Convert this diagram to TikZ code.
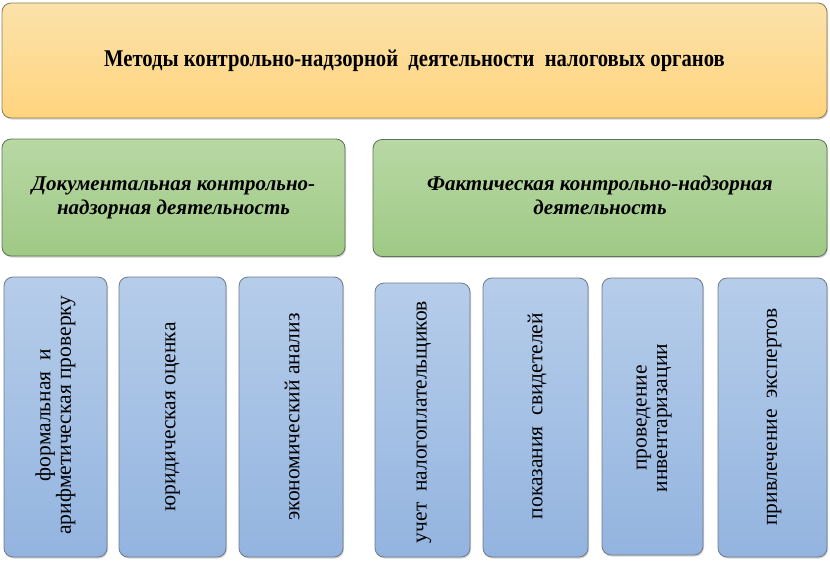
\documentclass[tikz,border=0pt]{standalone}
\usepackage{fontspec}
\setmainfont{Liberation Serif}
\usetikzlibrary{shadows}
\definecolor{topA}{HTML}{FBE2AA}
\definecolor{topB}{HTML}{FFD47E}
\definecolor{grnA}{HTML}{B8D8A4}
\definecolor{grnB}{HTML}{9FC985}
\definecolor{bluA}{HTML}{B6CDEA}
\definecolor{bluB}{HTML}{93B4DF}
\definecolor{edgeO}{HTML}{8A7A5A}
\definecolor{edgeG}{HTML}{5E7458}
\definecolor{edgeB}{HTML}{6E7A8A}
\begin{document}
\begin{tikzpicture}[x=1pt,y=-1pt,
  base/.style={rounded corners=9pt, line width=0.8pt, inner sep=0pt,
    drop shadow={shadow xshift=1pt, shadow yshift=-1.5pt, fill=black!35, opacity=0.5}},
  topbox/.style={base, draw=edgeO, top color=topA, bottom color=topB,
    font=\fontsize{24}{26}\selectfont\bfseries},
  grnbox/.style={base, draw=edgeG, top color=grnA, bottom color=grnB,
    font=\fontsize{21}{24}\selectfont\bfseries\itshape, align=center},
  blubox/.style={base, draw=edgeB, top color=bluA, bottom color=bluB},
  vtext/.style={rotate=90, font=\fontsize{21.5}{20.5}\selectfont, align=center, inner sep=0pt}
]
\useasboundingbox (0,0) rectangle (830,560);
\node[topbox, minimum width=825pt, minimum height=115pt] (top) at (414.5,60.5)
  {\scalebox{0.86}[1]{Методы контрольно-надзорной\ \ деятельности\ \ налоговых органов}};
\node[grnbox, minimum width=343pt, minimum height=117pt] (doc) at (173.5,197.5)
  {\raisebox{-2pt}{\begin{tabular}{@{}c@{}}Документальная контрольно-\\надзорная деятельность\end{tabular}}};
\node[grnbox, minimum width=454pt, minimum height=117pt] (fact) at (600,198)
  {\raisebox{-2pt}{\begin{tabular}{@{}c@{}}Фактическая контрольно-надзорная\\деятельность\end{tabular}}};
\node[blubox, minimum width=103pt, minimum height=280pt] (b1) at (55.5,417) {};
\node[blubox, minimum width=107pt, minimum height=280pt] (b2) at (172.5,417) {};
\node[blubox, minimum width=104pt, minimum height=280pt] (b3) at (291,417) {};
\node[blubox, minimum width=95pt, minimum height=274pt] (b4) at (422.5,420) {};
\node[blubox, minimum width=105pt, minimum height=279pt] (b5) at (535.5,417.5) {};
\node[blubox, minimum width=101pt, minimum height=277pt] (b6) at (652.5,416.5) {};
\node[blubox, minimum width=109pt, minimum height=279pt] (b7) at (772.5,417.5) {};
\node[vtext] (t1) at (55.5,415) {формальная\ \ и\\арифметическая проверку};
\node[vtext] (t2) at (172.5,417) {юридическая оценка};
\node[vtext] (t3) at (292,417) {экономический анализ};
\node[vtext] (t4) at (424,422) {учет\ \ налогоплательщиков};
\node[vtext] (t5) at (537,416) {показания\ \ свидетелей};
\node[vtext] (t6) at (654,418) {проведение\\инвентаризации};
\node[vtext] (t7) at (774,417) {привлечение\ \ экспертов};
\end{tikzpicture}
\end{document}
